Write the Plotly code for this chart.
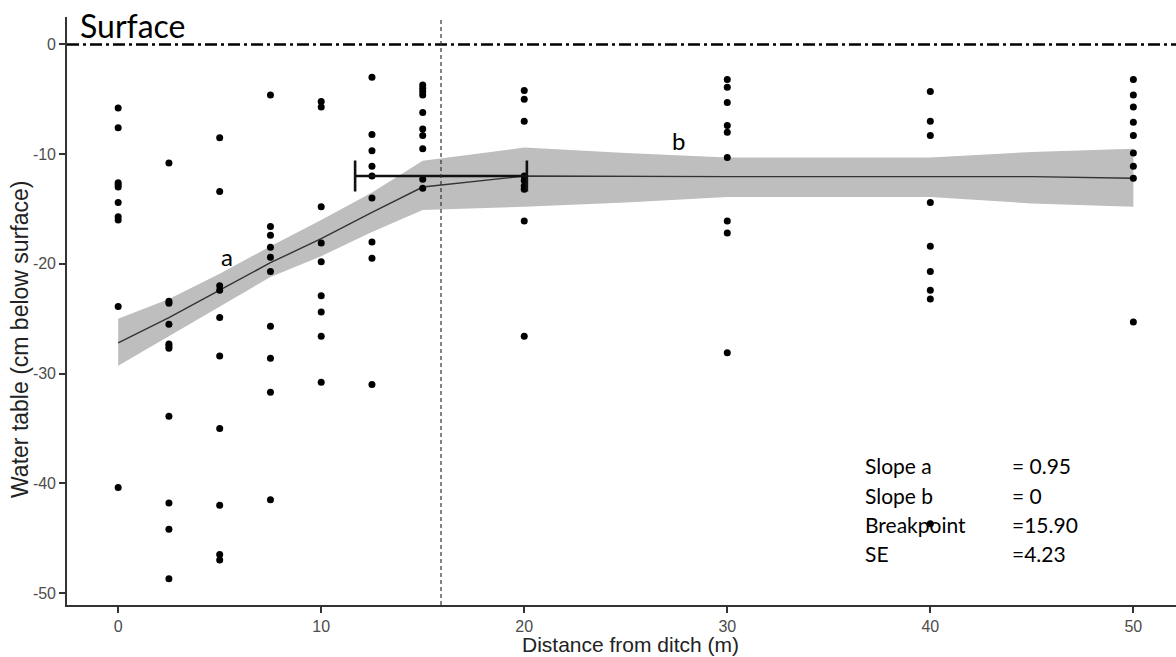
import plotly.graph_objects as go

# ---------------- data ----------------
distance_levels = [0, 2.5, 5, 7.5, 10, 12.5, 15, 20, 30, 40, 50]

wt_0    = [-5.8, -7.6, -12.6, -12.8, -13.0, -14.4, -15.7, -16.0, -23.9, -40.4]
wt_2_5  = [-10.8, -23.4, -23.6, -25.5, -27.3, -27.5, -27.7, -33.9, -41.8, -44.2, -48.7]
wt_5    = [-8.5, -13.4, -22.0, -22.4, -24.9, -28.4, -35.0, -42.0, -46.5, -47.0]
wt_7_5  = [-4.6, -16.6, -17.4, -18.5, -19.4, -20.7, -25.7, -28.6, -31.7, -41.5]
wt_10   = [-5.2, -5.7, -14.8, -18.1, -19.8, -22.9, -24.4, -26.6, -30.8]
wt_12_5 = [-3.0, -8.2, -9.7, -11.1, -12.0, -14.0, -18.0, -19.5, -31.0]
wt_15   = [-3.7, -4.0, -4.3, -4.6, -6.2, -7.7, -8.3, -9.5, -12.3, -13.1]
wt_20   = [-4.2, -5.0, -7.0, -12.0, -12.4, -12.9, -13.2, -16.1, -26.6]
wt_30   = [-3.2, -3.9, -5.3, -7.4, -8.0, -10.3, -16.1, -17.2, -28.1]
wt_40   = [-4.3, -7.0, -8.3, -14.4, -18.4, -20.7, -22.4, -23.2, -43.7]
wt_50   = [-3.2, -4.6, -5.7, -7.1, -8.3, -9.9, -11.1, -12.2, -25.3]

# fitted segmented regression line
fit_x = [0, 2.5, 5, 7.5, 10, 12.5, 15, 20, 30, 40, 45, 50]
fit_y = [-27.2, -24.9, -22.4, -19.9, -17.7, -15.3, -13.0, -12.0, -12.05, -12.05, -12.05, -12.2]

# confidence band
band_x     = [0, 2.5, 5, 7.5, 10, 12.5, 15, 20, 25, 30, 40, 45, 50]
band_upper = [-25.0, -23.2, -20.9, -18.4, -16.0, -13.5, -10.6, -9.4, -9.9, -10.3, -10.3, -9.8, -9.5]
band_lower = [-29.3, -26.6, -23.9, -21.2, -19.3, -17.1, -15.1, -14.8, -14.4, -13.9, -13.9, -14.5, -14.8]

# breakpoint estimate
breakpoint = 15.90
breakpoint_se = 4.23
breakpoint_level = -12.0
surface_level = 0

stat_labels = ["Slope a", "Slope b", "Breakpoint", "SE"]
stat_values = ["= 0.95", "= 0", "=15.90", "=4.23"]
stat_y = [-38.4, -41.1, -43.75, -46.4]

x_tick_vals = [0, 10, 20, 30, 40, 50]
x_tick_text = ["0", "10", "20", "30", "40", "50"]
y_tick_vals = [0, -10, -20, -30, -40, -50]
y_tick_text = ["0", "-10", "-20", "-30", "-40", "-50"]

columns = [wt_0, wt_2_5, wt_5, wt_7_5, wt_10, wt_12_5, wt_15, wt_20, wt_30, wt_40, wt_50]
pts_x, pts_y = [], []
for d, vals in zip(distance_levels, columns):
    pts_x += [d] * len(vals)
    pts_y += vals

# ---------------- figure ----------------
AX_FONT = "Liberation Sans, Arial, sans-serif"
TXT_FONT = "Lato, Carlito, sans-serif"

fig = go.Figure()

fig.add_trace(go.Scatter(x=band_x + band_x[::-1], y=band_upper + band_lower[::-1],
                         fill="toself", fillcolor="#BEBEBE", line=dict(width=0),
                         mode="lines", hoverinfo="skip"))
fig.add_trace(go.Scatter(x=fit_x, y=fit_y, mode="lines",
                         line=dict(color="#333333", width=1.4)))
fig.add_trace(go.Scatter(x=pts_x, y=pts_y, mode="markers",
                         marker=dict(color="black", size=7)))
fig.add_trace(go.Scatter(x=[breakpoint], y=[breakpoint_level], mode="markers",
                         marker=dict(size=1, color="rgba(0,0,0,0)"),
                         error_x=dict(type="data", array=[breakpoint_se], visible=True,
                                      color="#111111", thickness=2.6, width=15.5)))

fig.add_shape(type="line", xref="paper", x0=0, x1=1, yref="y", y0=surface_level, y1=surface_level,
              line=dict(color="black", width=2.5, dash="12px,4px,3px,4px"))
fig.add_shape(type="line", xref="x", x0=breakpoint, x1=breakpoint, yref="paper", y0=0, y1=1,
              line=dict(color="#333333", width=1.2, dash="4px,3px"))

ann = []
ann.append(dict(text="Surface", x=-2.0, y=1.7, xref="x", yref="y", xanchor="left", yanchor="middle",
                showarrow=False, font=dict(family=TXT_FONT, size=32, color="black")))
ann.append(dict(text="a", x=5.36, y=-19.3, xref="x", yref="y", showarrow=False,
                font=dict(family=TXT_FONT, size=24, color="black")))
ann.append(dict(text="b", x=27.58, y=-8.8, xref="x", yref="y", showarrow=False,
                font=dict(family=TXT_FONT, size=24, color="black")))
for lab, val, yy in zip(stat_labels, stat_values, stat_y):
    ann.append(dict(text=lab, x=36.67, y=yy, xref="x", yref="y", xanchor="left", yanchor="middle",
                    showarrow=False, font=dict(family=TXT_FONT, size=21, color="black")))
    ann.append(dict(text=val, x=43.9, y=yy, xref="x", yref="y", xanchor="left", yanchor="middle",
                    showarrow=False, font=dict(family=TXT_FONT, size=21, color="black")))
ann.append(dict(text="Water table (cm below surface)", x=0, y=0.4507, xref="paper", yref="paper",
                xanchor="center", yanchor="middle", xshift=-47, textangle=-90, showarrow=False,
                font=dict(family=AX_FONT, size=23, color="#222222")))
ann.append(dict(text="Distance from ditch (m)", x=0.508, y=0, xref="paper", yref="paper",
                xanchor="center", yanchor="middle", yshift=-39, showarrow=False,
                font=dict(family=AX_FONT, size=21, color="#222222")))

axis_common = dict(showgrid=False, zeroline=False, showline=True, linecolor="#333333", linewidth=1.6,
                   ticks="outside", ticklen=6, tickwidth=1.5, tickcolor="#333333",
                   tickfont=dict(family=AX_FONT, size=16, color="#4D4D4D"))

fig.update_layout(
    width=1176, height=657,
    margin=dict(l=67, r=0, t=17, b=52),
    plot_bgcolor="white", paper_bgcolor="white",
    showlegend=False,
    annotations=ann,
    xaxis=dict(range=[-2.52, 52.1], tickvals=x_tick_vals, ticktext=x_tick_text, **axis_common),
    yaxis=dict(range=[-51.1, 2.5], tickvals=y_tick_vals, ticktext=y_tick_text, **axis_common),
)

fig.write_html("out.html")
